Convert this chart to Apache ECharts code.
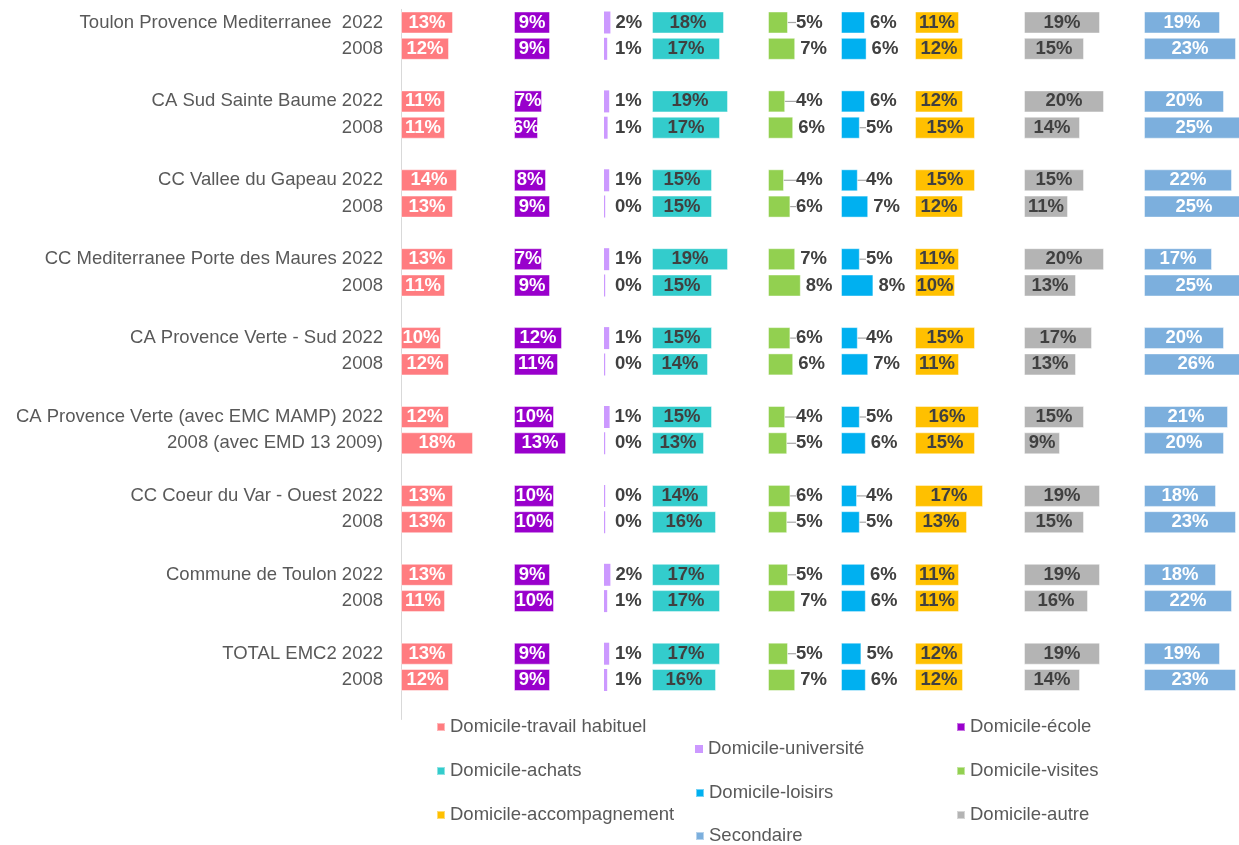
<!DOCTYPE html>
<html>
<head>
<meta charset="utf-8">
<script src="https://cdn.jsdelivr.net/npm/echarts@6/dist/echarts.min.js"></script>
<style>
  html, body { margin: 0; padding: 0; background: #ffffff; }
  #chart { width: 1239px; height: 845px; }
</style>
</head>
<body>
<div id="chart"></div>
<script>
// Row labels (2022 / 2008 for each territory)
const rowLabels = [
  "Toulon Provence Mediterranee  2022", "2008",
  "CA Sud Sainte Baume 2022", "2008",
  "CC Vallee du Gapeau 2022", "2008",
  "CC Mediterranee Porte des Maures 2022", "2008",
  "CA Provence Verte - Sud 2022", "2008",
  "CA Provence Verte (avec EMC MAMP) 2022", "2008 (avec EMD 13 2009)",
  "CC Coeur du Var - Ouest 2022", "2008",
  "Commune de Toulon 2022", "2008",
  "TOTAL EMC2 2022", "2008"
];

const seriesNames = [
  "Domicile-travail habituel", "Domicile-école", "Domicile-université",
  "Domicile-achats", "Domicile-visites", "Domicile-loisirs",
  "Domicile-accompagnement", "Domicile-autre", "Secondaire"
];

// Values in % (same order as rowLabels); labels show them rounded
const travail    = [13, 12, 11, 11, 14, 13, 13, 11, 10, 12, 12, 18, 13, 13, 13, 11, 13, 12];
const ecole      = [9, 9, 7, 6, 8, 9, 7, 9, 12, 11, 10, 13, 10, 10, 9, 10, 9, 9];
const universite = [1.6, 0.8, 1.3, 0.9, 1.3, 0.3, 1.3, 0.3, 1.3, 0.3, 1.4, 0.3, 0.3, 0.3, 1.6, 0.8, 1.3, 0.8];
const achats     = [18, 17, 19, 17, 15, 15, 19, 15, 15, 14, 15, 13, 14, 16, 17, 17, 17, 16];
const visites    = [5, 6.8, 4.3, 6.3, 4, 5.6, 6.8, 8.2, 5.6, 6.3, 4.3, 4.8, 5.6, 4.8, 5, 6.8, 5, 6.8];
const loisirs    = [6, 6.4, 6, 4.7, 4.2, 6.8, 4.7, 8.1, 4.2, 6.8, 4.7, 6.2, 4, 4.7, 6, 6.2, 5.1, 6.2];
const accomp     = [11, 12, 12, 15, 15, 12, 11, 10, 15, 11, 16, 15, 17, 13, 11, 11, 12, 12];
const autre      = [19, 15, 20, 14, 15, 11, 20, 13, 17, 13, 15, 9, 19, 15, 19, 16, 19, 14];
const secondaire = [19, 23, 20, 25, 22, 25, 17, 25, 20, 26, 21, 20, 18, 23, 18, 22, 19, 23];

// ---- build options ----
function withGaps(arr, gapVal) {
  const out = [];
  for (let i = 0; i < arr.length; i += 2) {
    out.push(arr[i], arr[i + 1], gapVal);
  }
  return out;
}
const categories = withGaps(rowLabels, "");
const allValues = [travail, ecole, universite, achats, visites, loisirs, accomp, autre, secondaire];

const colors = ["#FF7C80", "#9900CC", "#CC99FF", "#33CCCC", "#92D050", "#00B0F0", "#FFC000", "#B4B4B4", "#7CAFDD"];
const colLefts = [401, 514, 604, 652, 768, 841, 915, 1024, 1144];
const PX = 4;            // pixels per percent in every panel
const LABEL_DIST = 5;
// label style per panel: [position, color, minOffset, leader]
const labelCfg = [
  ["inside", "#FFFFFF"], ["inside", "#FFFFFF"], ["right", "#404040", 11, false],
  ["inside", "#404040"], ["right", "#404040", 28, true], ["right", "#404040", 25, true],
  ["inside", "#404040"], ["inside", "#404040"], ["inside", "#FFFFFF"]
];

const FONT = "'Liberation Sans', Arial, sans-serif";
const CHART_W = 1239;
const gridTop = 9.35, slot = 26.3;

const grids = [], xAxes = [], yAxes = [], series = [], legends = [];
const legendCols = [436, 695, 956];
const legendRows = [727, 749, 771, 793, 815, 836];
const legendPos = [[0, 0], [2, 0], [1, 1], [0, 2], [2, 2], [1, 3], [0, 4], [2, 4], [1, 5]];

for (let i = 0; i < 9; i++) {
  const gw = Math.min(120, CHART_W - colLefts[i]);
  grids.push({ left: colLefts[i], top: gridTop, width: gw, height: slot * categories.length });
  xAxes.push({ type: "value", gridIndex: i, min: 0, max: gw / PX, show: false });
  yAxes.push({
    type: "category", gridIndex: i, data: categories, inverse: true,
    show: i === 0,
    axisLine: { show: true, lineStyle: { color: "#D9D9D9", width: 1 } },
    axisTick: { show: false },
    splitLine: { show: false },
    axisLabel: { interval: 0, margin: 18, fontSize: 18.5, color: "#595959", fontFamily: FONT }
  });
  const cfg = labelCfg[i];
  const vals = withGaps(allValues[i], null);
  let data = vals;
  if (cfg[0] === "right" && cfg[3]) {
    const minOff = cfg[2];
    data = vals.map(function (v) {
      if (v == null) return null;
      return { value: v, labelLine: { show: v * PX + LABEL_DIST < minOff } };
    });
  }
  const s = {
    type: "bar", name: seriesNames[i], xAxisIndex: i, yAxisIndex: i,
    data: data,
    barWidth: 22,
    clip: false,
    itemStyle: i === 2
      ? { color: colors[i], borderWidth: 0 }
      : { color: colors[i], borderColor: "rgba(255,255,255,0.45)", borderWidth: 1 },
    label: {
      show: true, position: cfg[0], distance: LABEL_DIST,
      color: cfg[1], fontSize: 18.5, fontWeight: "bold", fontFamily: FONT,
      formatter: function (p) { return Math.round(p.value) + "%"; }
    }
  };
  if (cfg[0] === "right") {
    const minOff = cfg[2];
    s.labelLayout = function (p) {
      const target = p.rect.x + minOff;
      if (p.labelRect.x < target - 0.5) return { dx: target - p.labelRect.x };
      return {};
    };
    if (cfg[3]) {
      s.labelLine = { show: false, lineStyle: { color: "#A6A6A6", width: 1.2 } };
    }
  }
  series.push(s);
  const lp = legendPos[i];
  legends.push({
    data: [seriesNames[i]],
    left: legendCols[lp[0]], top: legendRows[lp[1]] - 9.5,
    padding: 0, itemWidth: 8, itemHeight: 8, icon: "rect",
    selectedMode: false,
    textStyle: { fontSize: 18.5, color: "#595959", fontFamily: FONT }
  });
}

const chart = echarts.init(document.getElementById("chart"), null, { renderer: "canvas" });
chart.setOption({
  backgroundColor: "#FFFFFF",
  animation: false,
  grid: grids,
  xAxis: xAxes,
  yAxis: yAxes,
  legend: legends,
  series: series
});
</script>
</body>
</html>
